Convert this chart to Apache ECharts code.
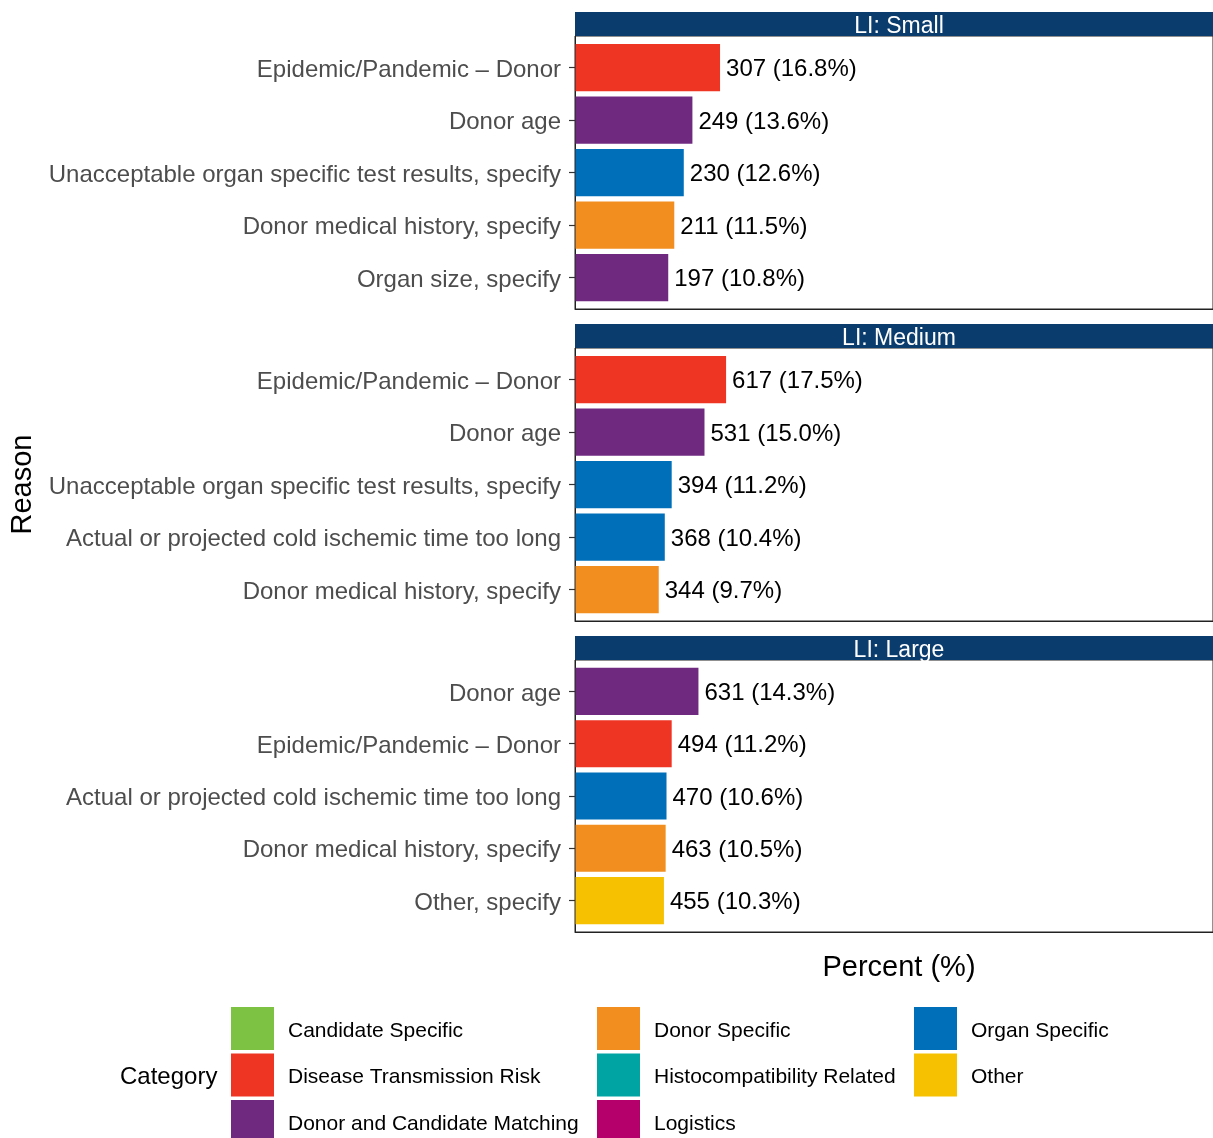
<!DOCTYPE html>
<html>
<head>
<meta charset="utf-8">
<script src="https://cdn.jsdelivr.net/npm/echarts@6/dist/echarts.min.js"></script>
<style>
html,body{margin:0;padding:0;background:#fff;}
#chart{width:1213px;height:1138px;}
</style>
</head>
<body>
<div id="chart"></div>
<script>
// ---- Data ----
const panelTitles = ['LI: Small', 'LI: Medium', 'LI: Large'];

const reasonsSmall = ['Epidemic/Pandemic \u2013 Donor', 'Donor age', 'Unacceptable organ specific test results, specify', 'Donor medical history, specify', 'Organ size, specify'];
const countsSmall = [307, 249, 230, 211, 197];
const pctSmall = [16.8, 13.6, 12.6, 11.5, 10.8];
const catSmall = ['Disease Transmission Risk', 'Donor and Candidate Matching', 'Organ Specific', 'Donor Specific', 'Donor and Candidate Matching'];

const reasonsMedium = ['Epidemic/Pandemic \u2013 Donor', 'Donor age', 'Unacceptable organ specific test results, specify', 'Actual or projected cold ischemic time too long', 'Donor medical history, specify'];
const countsMedium = [617, 531, 394, 368, 344];
const pctMedium = [17.5, 15.0, 11.2, 10.4, 9.7];
const catMedium = ['Disease Transmission Risk', 'Donor and Candidate Matching', 'Organ Specific', 'Organ Specific', 'Donor Specific'];

const reasonsLarge = ['Donor age', 'Epidemic/Pandemic \u2013 Donor', 'Actual or projected cold ischemic time too long', 'Donor medical history, specify', 'Other, specify'];
const countsLarge = [631, 494, 470, 463, 455];
const pctLarge = [14.3, 11.2, 10.6, 10.5, 10.3];
const catLarge = ['Donor and Candidate Matching', 'Disease Transmission Risk', 'Organ Specific', 'Donor Specific', 'Other'];

const legendCol1 = ['Candidate Specific', 'Disease Transmission Risk', 'Donor and Candidate Matching'];
const legendCol2 = ['Donor Specific', 'Histocompatibility Related', 'Logistics'];
const legendCol3 = ['Organ Specific', 'Other'];

// ---- Styles ----
const categoryColors = {
  'Candidate Specific': '#7DC242',
  'Disease Transmission Risk': '#EE3524',
  'Donor and Candidate Matching': '#6F2A80',
  'Donor Specific': '#F28E1F',
  'Histocompatibility Related': '#00A4A3',
  'Logistics': '#B5006C',
  'Organ Specific': '#006FB9',
  'Other': '#F6C100'
};
const FONT = '"Liberation Sans", Arial, Helvetica, sans-serif';

const panels = [
  {reasons: reasonsSmall, counts: countsSmall, pct: pctSmall, cats: catSmall},
  {reasons: reasonsMedium, counts: countsMedium, pct: pctMedium, cats: catMedium},
  {reasons: reasonsLarge, counts: countsLarge, pct: pctLarge, cats: catLarge}
];
const gridBoxes = [
  {top: 36, height: 273},
  {top: 348, height: 273},
  {top: 660, height: 272}
];
const GRID_LEFT = 575, GRID_WIDTH = 638, X_MAX = 73.9, STRIP_WIDTH = 648;

const grids = [], xAxes = [], yAxes = [], series = [], graphics = [];

panels.forEach((p, i) => {
  const g = gridBoxes[i];
  grids.push({left: GRID_LEFT, top: g.top, width: GRID_WIDTH, height: g.height,
    show: true, borderColor: '#222', borderWidth: 1, backgroundColor: 'transparent', containLabel: false});
  xAxes.push({
    type: 'value', gridIndex: i, min: 0, max: X_MAX, position: 'bottom',
    axisLine: {show: true, onZero: false, lineStyle: {color: '#222', width: 1}},
    axisTick: {show: false}, axisLabel: {show: false}, splitLine: {show: false},
    name: i === 2 ? 'Percent (%)' : '', nameLocation: 'middle', nameGap: 21,
    nameTextStyle: {fontFamily: FONT, fontSize: 29, color: '#000', padding: [0, 0, 0, 10]}
  });
  yAxes.push({
    type: 'value', gridIndex: i, min: -0.6, max: 4.6, inverse: true, position: 'left',
    axisLine: {show: true, onZero: false, lineStyle: {color: '#222', width: 1}},
    axisTick: {show: true, length: 6, customValues: [0, 1, 2, 3, 4], lineStyle: {color: '#333', width: 1.2}},
    axisLabel: {show: true, customValues: [0, 1, 2, 3, 4], margin: 14,
      fontFamily: FONT, fontSize: 24, color: '#4D4D4D',
      formatter: (v) => '{l|' + (p.reasons[Math.round(v)] || '') + '}',
      rich: {l: {fontFamily: FONT, fontSize: 24, color: '#4D4D4D', padding: [5, 0, 0, 0]}}},
    splitLine: {show: false},
    name: i === 1 ? 'Reason' : '', nameLocation: 'middle', nameGap: 532, nameRotate: 90,
    nameTextStyle: {fontFamily: FONT, fontSize: 29, color: '#000'}
  });
  series.push({
    type: 'custom', xAxisIndex: i, yAxisIndex: i,
    data: p.pct.map((v, j) => [v, j, p.counts[j]]),
    encode: {x: 0, y: 1},
    renderItem: (params, api) => {
      const v = api.value(0), y = api.value(1), n = api.value(2);
      const p0 = api.coord([0, y]);
      const p1 = api.coord([v, y]);
      const h = api.size([0, 0.9])[1];
      const color = categoryColors[p.cats[params.dataIndex]];
      return {
        type: 'group',
        children: [
          {type: 'rect', shape: {x: p0[0] + 0.5, y: p0[1] - h / 2, width: p1[0] - p0[0] - 0.5, height: h}, style: {fill: color}},
          {type: 'text', x: p1[0] + 6, y: p1[1] + 2,
            style: {text: n + ' (' + v.toFixed(1) + '%)', fill: '#000', font: '24px ' + FONT, verticalAlign: 'middle', align: 'left'}}
        ]
      };
    }
  });
  // facet strip
  graphics.push({type: 'rect', left: GRID_LEFT, top: g.top - 24, shape: {width: STRIP_WIDTH, height: 24},
    style: {fill: '#0B3C6E'}, silent: true});
  graphics.push({type: 'text', x: GRID_LEFT + STRIP_WIDTH / 2, y: g.top - 9,
    style: {text: panelTitles[i], fill: '#fff', font: '23px ' + FONT, align: 'center', verticalAlign: 'middle'}, silent: true});
});

// dummy series for legend entries
Object.keys(categoryColors).forEach((name) => {
  series.push({type: 'custom', name: name, xAxisIndex: 0, yAxisIndex: 0, data: [],
    itemStyle: {color: categoryColors[name]}, renderItem: () => null});
});

function makeLegend(names, left) {
  return {
    data: names.map(n => ({name: n, icon: 'rect', itemStyle: {color: categoryColors[n]}})),
    orient: 'vertical', left: left, top: 1007, height: 200, width: 320, padding: 0,
    itemWidth: 43, itemHeight: 43, itemGap: 3.5, selectedMode: false,
    formatter: (name) => '{t|' + name + '}',
    textStyle: {fontFamily: FONT, fontSize: 21, color: '#000',
      rich: {t: {fontFamily: FONT, fontSize: 21, color: '#000', padding: [5, 0, 0, 9]}}}
  };
}

const option = {
  animation: false,
  backgroundColor: '#fff',
  title: {text: 'Category', left: 120, top: 1065, padding: 0,
    textStyle: {fontFamily: FONT, fontSize: 24, fontWeight: 'normal', color: '#000'}},
  grid: grids, xAxis: xAxes, yAxis: yAxes, series: series,
  legend: [makeLegend(legendCol1, 231), makeLegend(legendCol2, 597), makeLegend(legendCol3, 914)],
  graphic: graphics
};

const chart = echarts.init(document.getElementById('chart'), null, {renderer: 'canvas'});
chart.setOption(option);
</script>
</body>
</html>
